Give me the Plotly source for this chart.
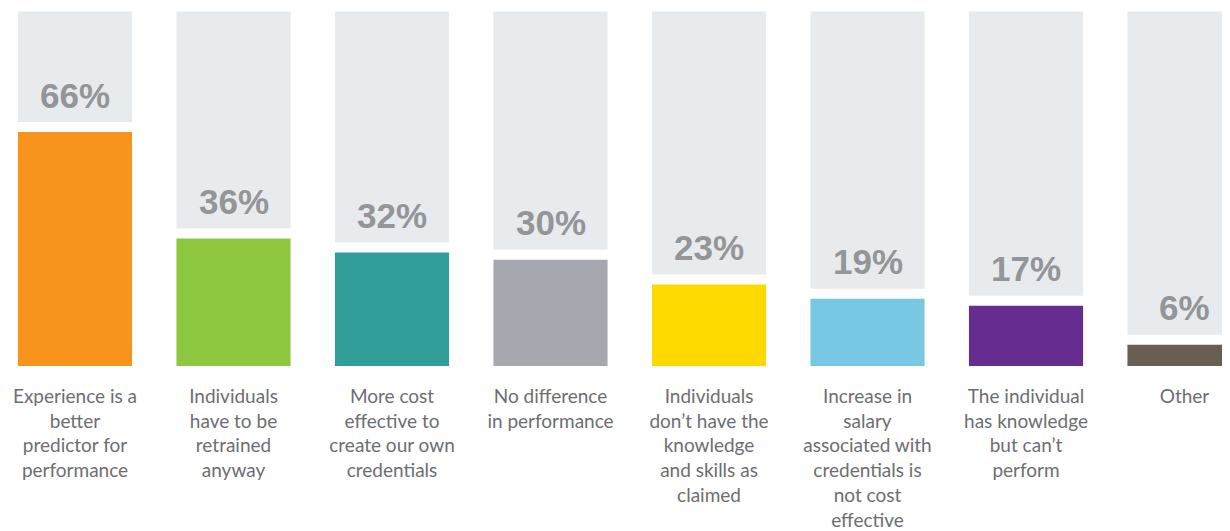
import plotly.graph_objects as go

categories = [
    "Experience is a<br>better<br>predictor for<br>performance",
    "Individuals<br>have to be<br>retrained<br>anyway",
    "More cost<br>effective to<br>create our own<br>credentials",
    "No difference<br>in performance",
    "Individuals<br>don’t have the<br>knowledge<br>and skills as<br>claimed",
    "Increase in<br>salary<br>associated with<br>credentials is<br>not cost<br>effective",
    "The individual<br>has knowledge<br>but can’t<br>perform",
    "Other",
]
values = [66, 36, 32, 30, 23, 19, 17, 6]
colors = ["#F7941D", "#8DC63F", "#329E99", "#A5A8AE", "#FDD900", "#78C7E3", "#662D91", "#6A5D51"]

GAP = 2.82
x = list(range(len(values)))
bg_base = [v + GAP for v in values]
bg_height = [100 - b for b in bg_base]

fig = go.Figure()
fig.add_trace(go.Bar(x=x, y=bg_height, base=bg_base, marker=dict(color="#E8EBEE", line=dict(width=0)),
                     width=0.72, hoverinfo="skip"))
fig.add_trace(go.Bar(x=x, y=values, marker=dict(color=colors, line=dict(width=0)), width=0.72))

for i, v in enumerate(values):
    fig.add_annotation(x=i, y=v + GAP, text=f"<b>{v}%</b>", showarrow=False, yanchor="middle",
                       yshift=27, font=dict(family="Liberation Sans, Arial", size=35, color="#939598"))

fig.update_layout(
    width=1222, height=523,
    margin=dict(l=0, r=0, t=0, b=165),
    plot_bgcolor="white", paper_bgcolor="white",
    showlegend=False, barmode="overlay",
    xaxis=dict(range=[-0.4227, 7.287], tickvals=x, ticktext=categories, showgrid=False,
               zeroline=False, showline=False, ticks="", ticklabelstandoff=17,
               tickfont=dict(family="Lato, Open Sans, sans-serif", size=19, color="#6D6E71"), tickangle=0),
    yaxis=dict(range=[0, 100.99], visible=False),
)
fig.write_html("out.html")
